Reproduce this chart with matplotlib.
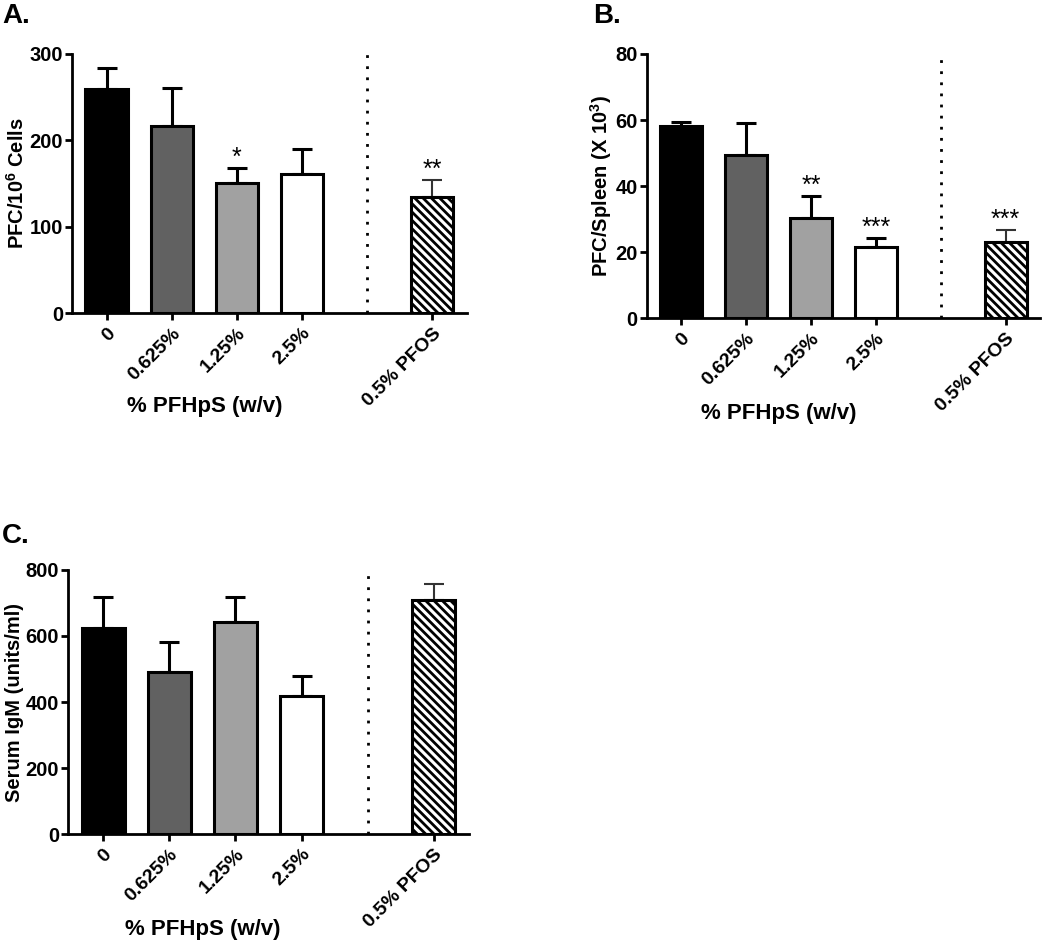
import matplotlib
matplotlib.use("Agg")
import matplotlib.pyplot as plt
from matplotlib.transforms import blended_transform_factory

plt.rcParams["font.family"] = ["Liberation Sans", "DejaVu Sans"]
plt.rcParams["font.weight"] = "bold"
plt.rcParams["axes.labelweight"] = "bold"
plt.rcParams["mathtext.fontset"] = "custom"
plt.rcParams["mathtext.rm"] = "Liberation Sans:bold"
plt.rcParams["mathtext.default"] = "rm"
plt.rcParams["hatch.linewidth"] = 2.0

# data
groups = ["0", "0.625%", "1.25%", "2.5%", "0.5% PFOS"]
positions = [0, 1, 2, 3, 5]
divider_x = 4

a_means = [260, 217, 151, 161, 134]
a_errs = [24, 44, 17, 29, 20]
a_stars = ["", "", "*", "", "**"]

b_means = [58.2, 49.3, 30.3, 21.6, 23.2]
b_errs = [1.3, 9.7, 6.7, 2.7, 3.5]
b_stars = ["", "", "**", "***", "***"]

c_means = [625, 491, 643, 419, 709]
c_errs = [92, 92, 76, 59, 49]
c_stars = ["", "", "", "", ""]

fills = ["black", "#616161", "#a1a1a1", "white", "white"]
hatches = [None, None, None, None, "\\\\\\\\"]


def panel(ax, means, errs, stars, ymax, yticks, ylabel, letter, letter_xy, fig):
    for i, (x, m, e) in enumerate(zip(positions, means, errs)):
        ax.bar(x, m, width=0.65, color=fills[i], edgecolor="black",
               linewidth=2.2, hatch=hatches[i], zorder=3)
        pfos = i == len(means) - 1
        ax.errorbar(x, m, yerr=[[0], [e]], fmt="none",
                    ecolor="#333333" if pfos else "black",
                    elinewidth=1.5 if pfos else 2.2,
                    capsize=7.5, capthick=1.5 if pfos else 2.2, zorder=2)
        if stars[i]:
            ax.annotate(stars[i], (x, m + e), xytext=(0, -1),
                        textcoords="offset points", ha="center", va="bottom",
                        fontsize=18, fontweight="normal")

    ax.axvline(divider_x, ymin=0, ymax=1, color="black", linestyle=(0, (1, 3)),
               linewidth=2)
    ax.set_xlim(-0.53, 5.53)
    ax.set_ylim(0, ymax)
    ax.set_yticks(yticks)
    ax.set_xticks(positions)
    ax.set_xticklabels(groups, rotation=45, ha="right", rotation_mode="anchor")
    ax.tick_params(axis="both", width=2, length=5, direction="out")
    ax.tick_params(axis="x", labelsize=14)
    ax.tick_params(axis="y", labelsize=14.5, pad=1.5)
    for s in ["top", "right"]:
        ax.spines[s].set_visible(False)
    for s in ["left", "bottom"]:
        ax.spines[s].set_linewidth(2)
    ax.set_ylabel(ylabel, fontsize=14.5, labelpad=1)
    trans = blended_transform_factory(ax.transData, ax.transAxes)
    ax.text(1.5, -0.36, "% PFHpS (w/v)", transform=trans, ha="center",
            va="center", fontsize=16)
    fig.text(letter_xy[0], letter_xy[1], letter, fontsize=20, ha="left",
             va="center")


fig = plt.figure(figsize=(10.5, 9.44), dpi=100)
ax_a = fig.add_axes([0.0686, 0.6684, 0.376, 0.2744])
ax_b = fig.add_axes([0.6159, 0.6628, 0.3746, 0.2800])
ax_c = fig.add_axes([0.0648, 0.1165, 0.3819, 0.2797])

panel(ax_a, a_means, a_errs, a_stars, 300, [0, 100, 200, 300],
      "PFC/10$^{6}$ Cells", "A.", (0.002, 0.983), fig)
panel(ax_b, b_means, b_errs, b_stars, 80, [0, 20, 40, 60, 80],
      "PFC/Spleen (X 10$^{3}$)", "B.", (0.565, 0.983), fig)
panel(ax_c, c_means, c_errs, c_stars, 800, [0, 200, 400, 600, 800],
      "Serum IgM (units/ml)", "C.", (0.002, 0.432), fig)

fig.savefig("out.png", dpi=100)
